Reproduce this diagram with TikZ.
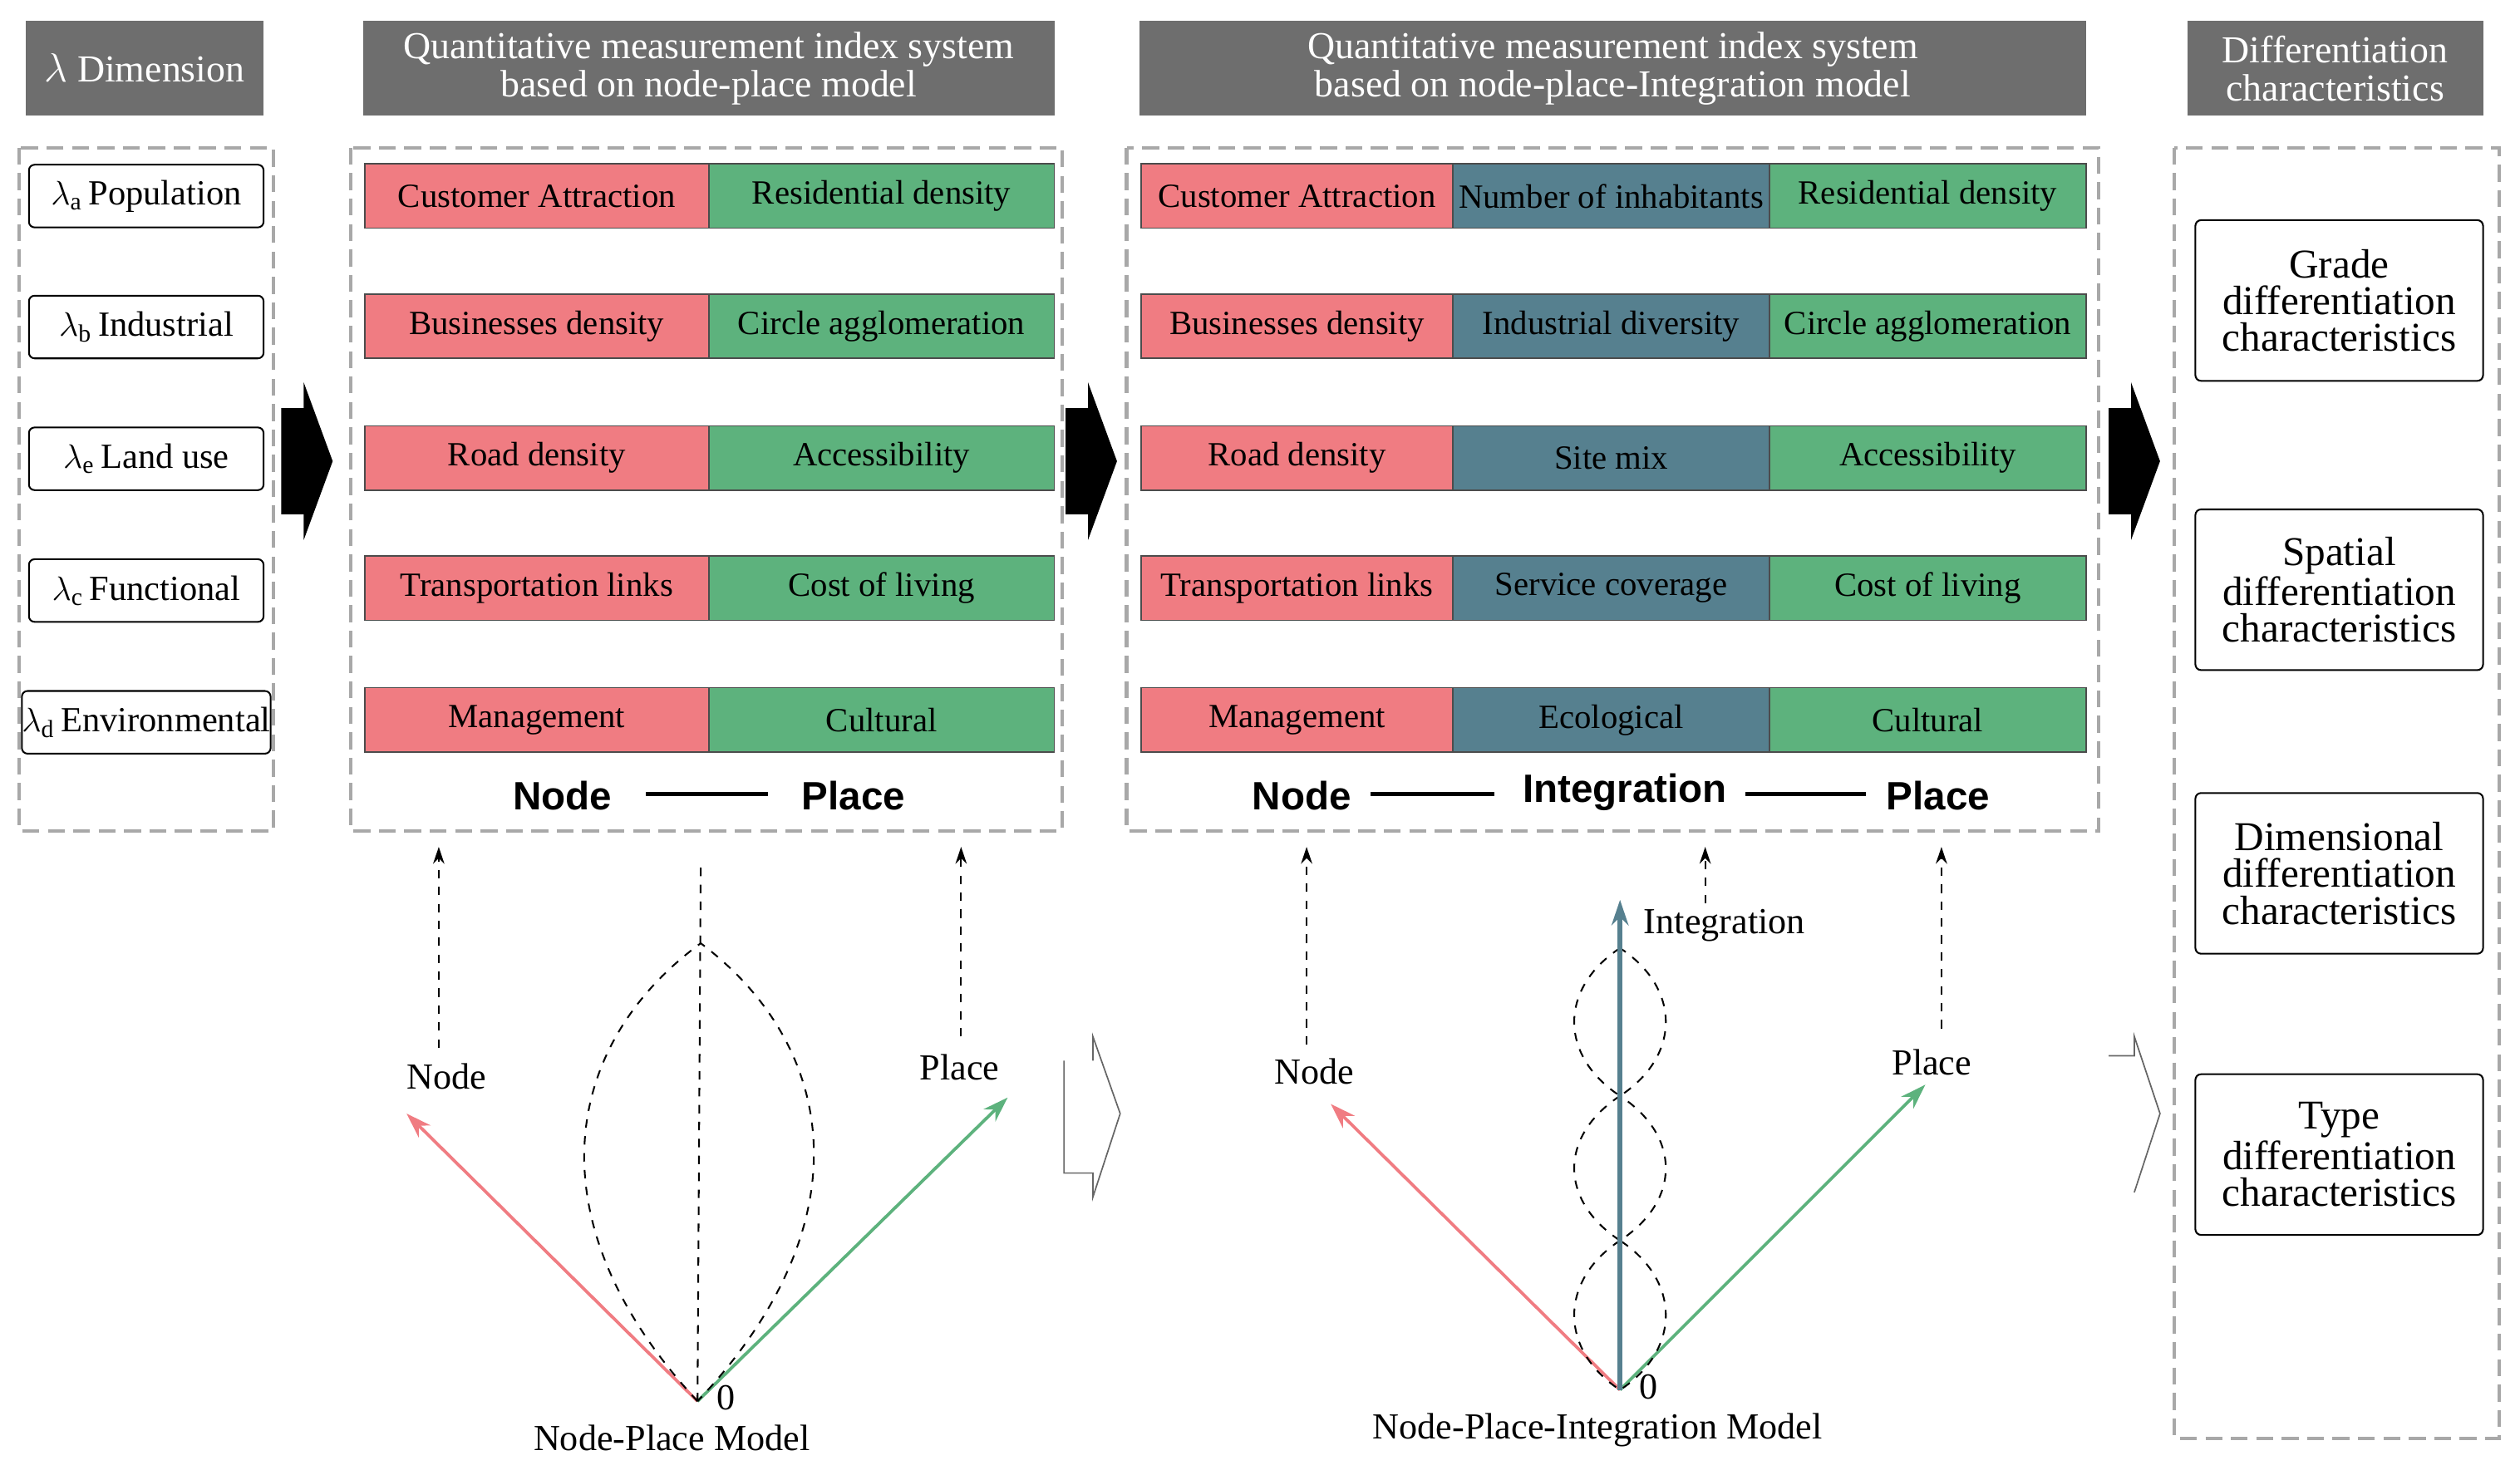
\documentclass[tikz,border=0pt]{standalone}
\usepackage{fontspec}
\setmainfont{Liberation Serif}
\newfontfamily\sansf{Liberation Sans}
\usetikzlibrary{arrows.meta}
\definecolor{hdr}{HTML}{6E6E6E}
\definecolor{cred}{HTML}{F07C82}
\definecolor{cgrn}{HTML}{5DB27D}
\definecolor{cblu}{HTML}{56808F}
\definecolor{dgray}{HTML}{A8A8A8}
\begin{document}
\begin{tikzpicture}[x=0.02cm,y=-0.02cm,
 hd/.style={fill=hdr,draw=none,text=white,font=\fontsize{13.5}{13.5}\selectfont,align=center,inner sep=0},
 dbox/.style={draw=dgray,dashed,line width=1.2pt,dash pattern=on 6pt off 3pt},
 cell/.style={draw=black!70,line width=0.5pt,font=\fontsize{12}{12}\selectfont,inner sep=0},
 lam/.style={draw=black,rounded corners=2pt,line width=0.6pt,font=\fontsize{12.5}{12}\selectfont,inner sep=0},
 rb/.style={draw=black,rounded corners=2pt,line width=0.6pt,font=\fontsize{14.5}{13}\selectfont,align=center,inner sep=0},
 lbl/.style={font=\fontsize{13}{13}\selectfont},
 ax/.style={line width=1.1pt,-{Stealth[length=9pt,width=6pt]}},
 da/.style={dashed,line width=0.6pt,-{Stealth[length=6pt,width=4pt]}},
 big/.style={fill=black},
 ft/.style={font=\sansf\bfseries\fontsize{14}{14}\selectfont},
 hollow/.style={draw=black!60,line width=0.5pt}]
\useasboundingbox (0,0) rectangle (1568,921);
% headers
\node[hd,minimum width=148*0.02cm,minimum height=59*0.02cm] (h1) at (90,42.5) {$\lambda$ Dimension};
\node[hd,minimum width=430*0.02cm,minimum height=59*0.02cm] (h2) at (441,42.5) {Quantitative measurement index system\\based on node-place model};
\node[hd,minimum width=589*0.02cm,minimum height=59*0.02cm] (h3) at (1003.5,42.5) {Quantitative measurement index system\\based on node-place-Integration model};
\node[hd,minimum width=184*0.02cm,minimum height=59*0.02cm] (h4) at (1453,42.5) {Differentiation\\characteristics};
% dashed boxes
\draw[dbox] (12,92) rectangle (170,517);
\draw[dbox] (218,92) rectangle (661,517);
\draw[dbox] (701,92) rectangle (1306,517);
\draw[dbox] (1353,92) rectangle (1555,895);
% lambda boxes
\foreach \y/\s/\t [count=\i] in {122/a/Population,203.5/b/Industrial,285.5/e/Land use,367.5/c/Functional,449.5/d/Environmental}
  \node[lam,minimum width=146*0.02cm,minimum height=39*0.02cm,anchor=center] (l\i) at (91,\y) {$\lambda_{\mathrm{\s}}$\,\t};
% section 2 cells
\foreach \y/\a/\b [count=\i] in {122/Customer Attraction/Residential density,203/Businesses density/Circle agglomeration,285/Road density/Accessibility,366/Transportation links/Cost of living,448/Management/Cultural}{
  \node[cell,fill=cred,minimum width=214*0.02cm,minimum height=40*0.02cm] (n\i) at (334,\y) {\a};
  \node[cell,fill=cgrn,minimum width=215*0.02cm,minimum height=40*0.02cm] (p\i) at (548.5,\y) {\b};}
% section 3 cells
\foreach \y/\a/\m/\b [count=\i] in {122/Customer Attraction/Number of inhabitants/Residential density,203/Businesses density/Industrial diversity/Circle agglomeration,285/Road density/Site mix/Accessibility,366/Transportation links/Service coverage/Cost of living,448/Management/Ecological/Cultural}{
  \node[cell,fill=cred,minimum width=194*0.02cm,minimum height=40*0.02cm] (N\i) at (807,\y) {\a};
  \node[cell,fill=cblu,minimum width=197*0.02cm,minimum height=40*0.02cm] (I\i) at (1002.5,\y) {\m};
  \node[cell,fill=cgrn,minimum width=197*0.02cm,minimum height=40*0.02cm] (P\i) at (1199.5,\y) {\b};}
% footers
\node[ft] (f1) at (350,495) {Node};
\node[ft] (f2) at (531,495) {Place};
\draw[line width=1.5pt] (402,494) -- (478,494);
\node[ft] (g1) at (810,495) {Node};
\node[ft] (g2) at (1011,493) {Integration};
\node[ft] (g3) at (1206,495) {Place};
\draw[line width=1.5pt] (853,494) -- (930,494);
\draw[line width=1.5pt] (1086,494) -- (1161,494);
% big arrows
\foreach \x in {175,663,1312}
  \fill[big] (\x,254) -- (\x+14,254) -- (\x+14,238) -- (\x+32,287) -- (\x+14,336) -- (\x+14,320) -- (\x,320) -- cycle;
% right boxes
\foreach \y/\t [count=\i] in {187/Grade,367/Spatial,543.5/Dimensional,718.5/Type}
  \node[rb,minimum width=179*0.02cm,minimum height=100*0.02cm] (r\i) at (1455.5,\y) {\t\\differentiation\\characteristics};
% left lower diagram
\coordinate (o1) at (434,872);
\coordinate (t1) at (436,587);
\node[lbl] (nd1) at (278,670) {Node};
\node[lbl] (pl1) at (597,664) {Place};
\node[lbl] (z1) at (452,870) {0};
\node[lbl] (m1) at (418,895) {Node-Place Model};
\draw[ax,cred] (o1) -- (253,693);
\draw[ax,cgrn] (o1) -- (627,683);
\draw[dashed,line width=0.6pt] (436,540) -- (o1);
\draw[dashed,line width=0.6pt] (o1) .. controls (330,760) and (350,650) .. (t1) .. controls (520,650) and (540,760) .. (o1);
\coordinate (a1) at (273,652); \coordinate (a2) at (598,645);
\draw[da] (a1) -- (273,527);
\draw[da] (a2) -- (598,527);
% hollow arrows
\draw[hollow] (662,660) -- (662,730) -- (680,730) -- (680,745) -- (697,693) -- (680,645) -- (680,660);
\draw[hollow] (1312,657) -- (1328,657) -- (1328,645) -- (1344,693) -- (1328,742);
% right lower diagram
\coordinate (o2) at (1008,865);
\node[lbl] (nd2) at (818,667) {Node};
\node[lbl] (pl2) at (1202,661) {Place};
\node[lbl] (in2) at (1073,576) {Integration};
\node[lbl] (z2) at (1026,863) {0};
\node[lbl] (m2) at (994,890) {Node-Place-Integration Model};
\draw[ax,cred] (o2) -- (828,687);
\draw[ax,cgrn] (o2) -- (1198,675);
\foreach \ya/\yb in {590/682,682/772,772/865}
  \draw[dashed,line width=0.6pt] (1008,\ya) .. controls (970,\ya+25) and (970,\yb-25) .. (1008,\yb) .. controls (1046,\yb-25) and (1046,\ya+25) .. (1008,\ya);
\draw[ax,cblu,line width=1.6pt] (o2) -- (1008,560);
\coordinate (b1) at (813,650); \coordinate (b2) at (1061,562); \coordinate (b3) at (1208,640);
\draw[da] (b1) -- (813,527);
\draw[da] (b2) -- (1061,527);
\draw[da] (b3) -- (1208,527);
\end{tikzpicture}
\end{document}
